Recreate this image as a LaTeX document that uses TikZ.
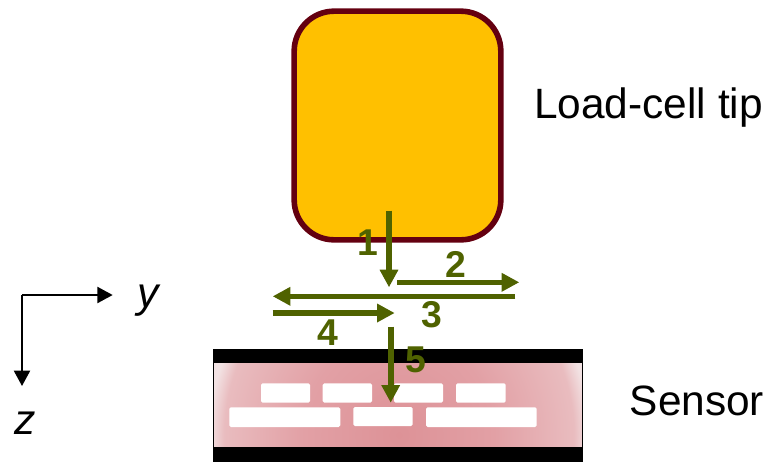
\documentclass[tikz,border=0pt]{standalone}
\usepackage{fontspec}
\setmainfont{Liberation Sans}
\usetikzlibrary{arrows.meta}
\definecolor{tipfill}{HTML}{FFC000}
\definecolor{tipedge}{HTML}{640010}
\definecolor{pathgreen}{HTML}{4F6200}
\definecolor{glowa}{HTML}{DD9297}
\definecolor{glowb}{HTML}{E2A0A5}
\definecolor{glowc}{HTML}{E9BCBF}
\definecolor{glowd}{HTML}{F2E2E3}
\pgfdeclareradialshading{sensorglow}{\pgfpoint{0bp}{0bp}}{%
  color(0bp)=(glowa); color(12.5bp)=(glowb); color(23bp)=(glowc);
  color(25bp)=(glowd); color(50bp)=(glowd)}
\tikzset{
  pathline/.style={draw=pathgreen, line width=4.2pt,
    -{Triangle[length=13.2pt,width=13.2pt]}},
  axisline/.style={draw=black, line width=1.6pt,
    -{Triangle[length=11.5pt,width=12pt]}},
  pathnum/.style={text=pathgreen, font=\fontsize{28}{30}\selectfont\bfseries, inner sep=0pt},
  biglabel/.style={font=\fontsize{31.8}{38}\selectfont, inner sep=0pt, anchor=base west},
  axislabel/.style={font=\fontsize{32}{38}\selectfont\itshape, inner sep=0pt, anchor=base west},
  electrode/.style={fill=white, draw=none, rounded corners=1.2pt},
}
\begin{document}
\begin{tikzpicture}[x=0.75pt,y=-0.75pt]
\useasboundingbox (0,0) rectangle (771,462);

% load-cell tip
\node[draw=tipedge, fill=tipfill, line width=4.2pt, rounded corners=30pt,
      minimum width=155pt, minimum height=171.5pt, inner sep=0pt] (tip) at (397.5,125.5) {};
\node[biglabel] (tiplabel) at (534,118) {Load-cell tip};

% sensor body: glow, black bands, side walls
\begin{scope}
  \clip (214,355) rectangle (582,455);
  \fill[glowd] (214,355) rectangle (582,455);
  \shade[shading=sensorglow] (399,435) ellipse (190 and 200);
\end{scope}
\fill[black] (213,349) rectangle (583,363);
\fill[black] (213,447) rectangle (583,462);
\draw[black, line width=0.8pt] (213.5,349) -- (213.5,462) (582.5,349) -- (582.5,462);
\node[biglabel] (sensorlabel) at (629.5,415) {Sensor};

% electrodes
\fill[electrode] (261,383.3) rectangle (310,402.7);
\fill[electrode] (322.7,383.3) rectangle (372,402.7);
\fill[electrode] (394,383.3) rectangle (443,402.7);
\fill[electrode] (456,383.3) rectangle (505.7,402.7);
\fill[electrode] (229.3,407.3) rectangle (340.3,427);
\fill[electrode] (353.3,407) rectangle (412.7,426);
\fill[electrode] (426,407.3) rectangle (536.7,427);

% numbered path segments
\coordinate (a1) at (389,210.7);   \coordinate (b1) at (389,287.3);
\coordinate (a2) at (397.3,282.3); \coordinate (b2) at (519.3,282.3);
\coordinate (a3) at (515.3,296.3); \coordinate (b3) at (272.7,296.3);
\coordinate (a4) at (272.7,313);   \coordinate (b4) at (394.7,313);
\coordinate (a5) at (390.7,326.7); \coordinate (b5) at (390.7,402.7);
\draw[pathline] (a1) -- (b1);
\draw[pathline] (a2) -- (b2);
\draw[pathline] (a3) -- (b3);
\draw[pathline] (a4) -- (b4);
\draw[pathline] (a5) -- (b5);
\node[pathnum] (n1) at (368,242.7) {1};
\node[pathnum] (n2) at (455.7,264) {2};
\node[pathnum] (n3) at (432.3,315) {3};
\node[pathnum] (n4) at (328.3,332.7) {4};
\node[pathnum] (n5) at (416,360) {5};

% axes
\coordinate (origin) at (22,295);
\coordinate (yend) at (112.7,295);
\coordinate (zend) at (22,386);
\draw[axisline] (origin) -- (yend);
\draw[axisline] (origin) -- (zend);
\node[axislabel] (ylabel) at (137,307) {y};
\node[axislabel] (zlabel) at (14,434) {z};
\end{tikzpicture}
\end{document}
